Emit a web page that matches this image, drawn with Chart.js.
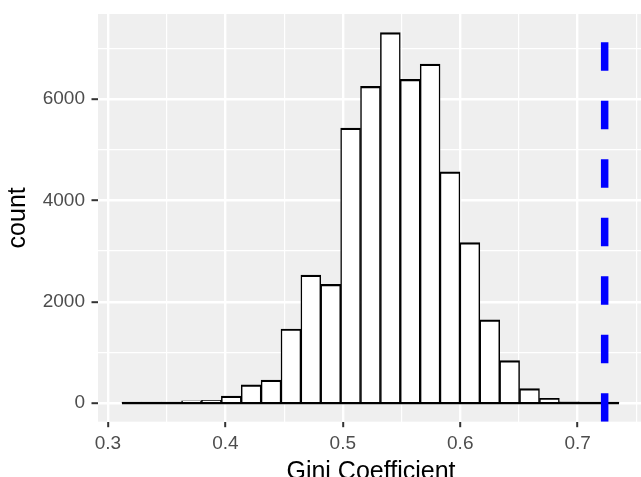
<!DOCTYPE html>
<html lang="en">
<head>
    <meta charset="UTF-8">
    <title>Gini Coefficient Histogram</title>
    <script src="https://cdn.jsdelivr.net/npm/chart.js"></script>
    <style>
        body {
            margin: 0;
            padding: 0;
            background: #ffffff;
            overflow: hidden;
        }
        #wrap {
            width: 641px;
            height: 477px;
            overflow: hidden;
        }
    </style>
</head>
<body>

<div id="wrap">
    <canvas id="giniChart" width="644" height="485"></canvas>
</div>

<script>
    // bin centres of the histogram (25 bins)
    const binCenters = [
        0.32037, 0.33730, 0.35423, 0.37116, 0.38809, 0.40503, 0.42196, 0.43889,
        0.45582, 0.47275, 0.48969, 0.50662, 0.52355, 0.54048, 0.55741, 0.57435,
        0.59128, 0.60821, 0.62514, 0.64207, 0.65901, 0.67594, 0.69287, 0.70980,
        0.72673
    ];
    const binCounts = [
        1, 3, 10, 45, 55, 140, 360, 455,
        1464, 2527, 2343, 5427, 6248, 7311, 6386, 6687,
        4561, 3169, 1642, 841, 286, 95, 28, 6,
        2
    ];
    // outer edges of the histogram, where the base line runs
    const histEdges = [0.3119, 0.7352];
    // observed value, drawn as the dashed reference line
    const observedGini = 0.723;

    // grid positions; labelled ones are the major breaks
    const xGrid = [0.30, 0.35, 0.40, 0.45, 0.50, 0.55, 0.60, 0.65, 0.70, 0.75];
    const xLabels = ['0.3', '0.4', '0.5', '0.6', '0.7'];
    const yGrid = [0, 1000, 2000, 3000, 4000, 5000, 6000, 7000];
    const yLabels = ['0', '2000', '4000', '6000'];

    const xLimits = [0.2915, 0.7565];
    const yLimits = [-365, 7676];

    const labelFor = (labels, v, digits) => {
        const s = digits ? v.toFixed(digits) : String(v);
        return labels.includes(s) ? s : '';
    };
    const isMajorX = v => labelFor(xLabels, v, 1) !== '' && Math.abs(v * 10 - Math.round(v * 10)) < 1e-6;
    const isMajorY = v => labelFor(yLabels, v) !== '';

    // scales get a fixed size and no extra label padding, so the panel sits exactly
    const fixSize = (scale, w, h) => {
        if (w) scale.width = w;
        if (h) scale.height = h;
        scale.paddingTop = 0;
        scale.paddingBottom = 0;
        scale.paddingLeft = 0;
        scale.paddingRight = 0;
    };

    // grey panel behind the grid, like ggplot's theme_grey
    const panelBackground = {
        id: 'panelBackground',
        beforeDraw(chart) {
            const { ctx, chartArea: a } = chart;
            ctx.save();
            ctx.fillStyle = '#EFEFEF';
            ctx.fillRect(a.left, a.top, a.right - a.left, a.bottom - a.top);
            ctx.restore();
        }
    };

    const tickFont = { family: 'Liberation Sans, Arial, sans-serif', size: 19 };
    const titleFont = { family: 'Liberation Sans, Arial, sans-serif', size: 25, lineHeight: 1 };

    new Chart(document.getElementById('giniChart').getContext('2d'), {
        type: 'bar',
        data: {
            datasets: [
                {
                    type: 'line',
                    order: 0,
                    data: [{ x: observedGini, y: yLimits[0] }, { x: observedGini, y: yLimits[1] }],
                    borderColor: '#0000FF',
                    borderWidth: 7.5,
                    borderDash: [28.5, 30],
                    borderCapStyle: 'butt',
                    pointRadius: 0
                },
                {
                    type: 'line',
                    order: 1,
                    data: [{ x: histEdges[0], y: 0 }, { x: histEdges[1], y: 0 }],
                    borderColor: '#000000',
                    borderWidth: 2.2,
                    pointRadius: 0
                },
                {
                    type: 'bar',
                    order: 2,
                    data: binCenters.map((c, i) => ({ x: c, y: binCounts[i] })),
                    backgroundColor: '#FFFFFF',
                    borderColor: '#000000',
                    borderWidth: { top: 2.2, left: 1.5, right: 1.5, bottom: 0 },
                    borderSkipped: false,
                    barPercentage: 1,
                    categoryPercentage: 1
                }
            ]
        },
        options: {
            responsive: false,
            devicePixelRatio: 1,
            animation: false,
            layout: { padding: { top: 14, left: 0, right: 0, bottom: 0 } },
            plugins: {
                legend: { display: false },
                tooltip: { enabled: false }
            },
            scales: {
                x: {
                    type: 'linear',
                    offset: false,
                    min: xLimits[0],
                    max: xLimits[1],
                    afterBuildTicks(scale) { scale.ticks = xGrid.map(v => ({ value: v })); },
                    afterFit(scale) { fixSize(scale, 0, 63.3); },
                    border: { display: false },
                    grid: {
                        offset: false,
                        color: '#FFFFFF',
                        lineWidth: c => isMajorX(c.tick.value) ? 2.4 : 1.2,
                        tickLength: 5.5,
                        tickWidth: 2,
                        tickColor: c => isMajorX(c.tick.value) ? '#333333' : 'rgba(0,0,0,0)'
                    },
                    ticks: {
                        autoSkip: false,
                        maxRotation: 0,
                        padding: 5,
                        color: '#4D4D4D',
                        font: tickFont,
                        callback: v => isMajorX(v) ? labelFor(xLabels, v, 1) : ''
                    },
                    title: {
                        display: true,
                        text: 'Gini Coefficient',
                        color: '#000000',
                        font: titleFont,
                        padding: { top: 0, bottom: 0 }
                    }
                },
                y: {
                    min: yLimits[0],
                    max: yLimits[1],
                    afterBuildTicks(scale) { scale.ticks = yGrid.map(v => ({ value: v })); },
                    afterFit(scale) { fixSize(scale, 98, 0); },
                    border: { display: false },
                    grid: {
                        color: '#FFFFFF',
                        lineWidth: c => isMajorY(c.tick.value) ? 2.4 : 1.2,
                        tickLength: 6.5,
                        tickWidth: 2,
                        tickColor: c => isMajorY(c.tick.value) ? '#333333' : 'rgba(0,0,0,0)'
                    },
                    ticks: {
                        autoSkip: false,
                        padding: 6.5,
                        color: '#4D4D4D',
                        font: tickFont,
                        callback: v => labelFor(yLabels, v)
                    },
                    title: {
                        display: true,
                        text: 'count',
                        color: '#000000',
                        font: titleFont,
                        padding: { top: 6, bottom: 0 }
                    }
                }
            }
        },
        plugins: [panelBackground]
    });
</script>

</body>
</html>
